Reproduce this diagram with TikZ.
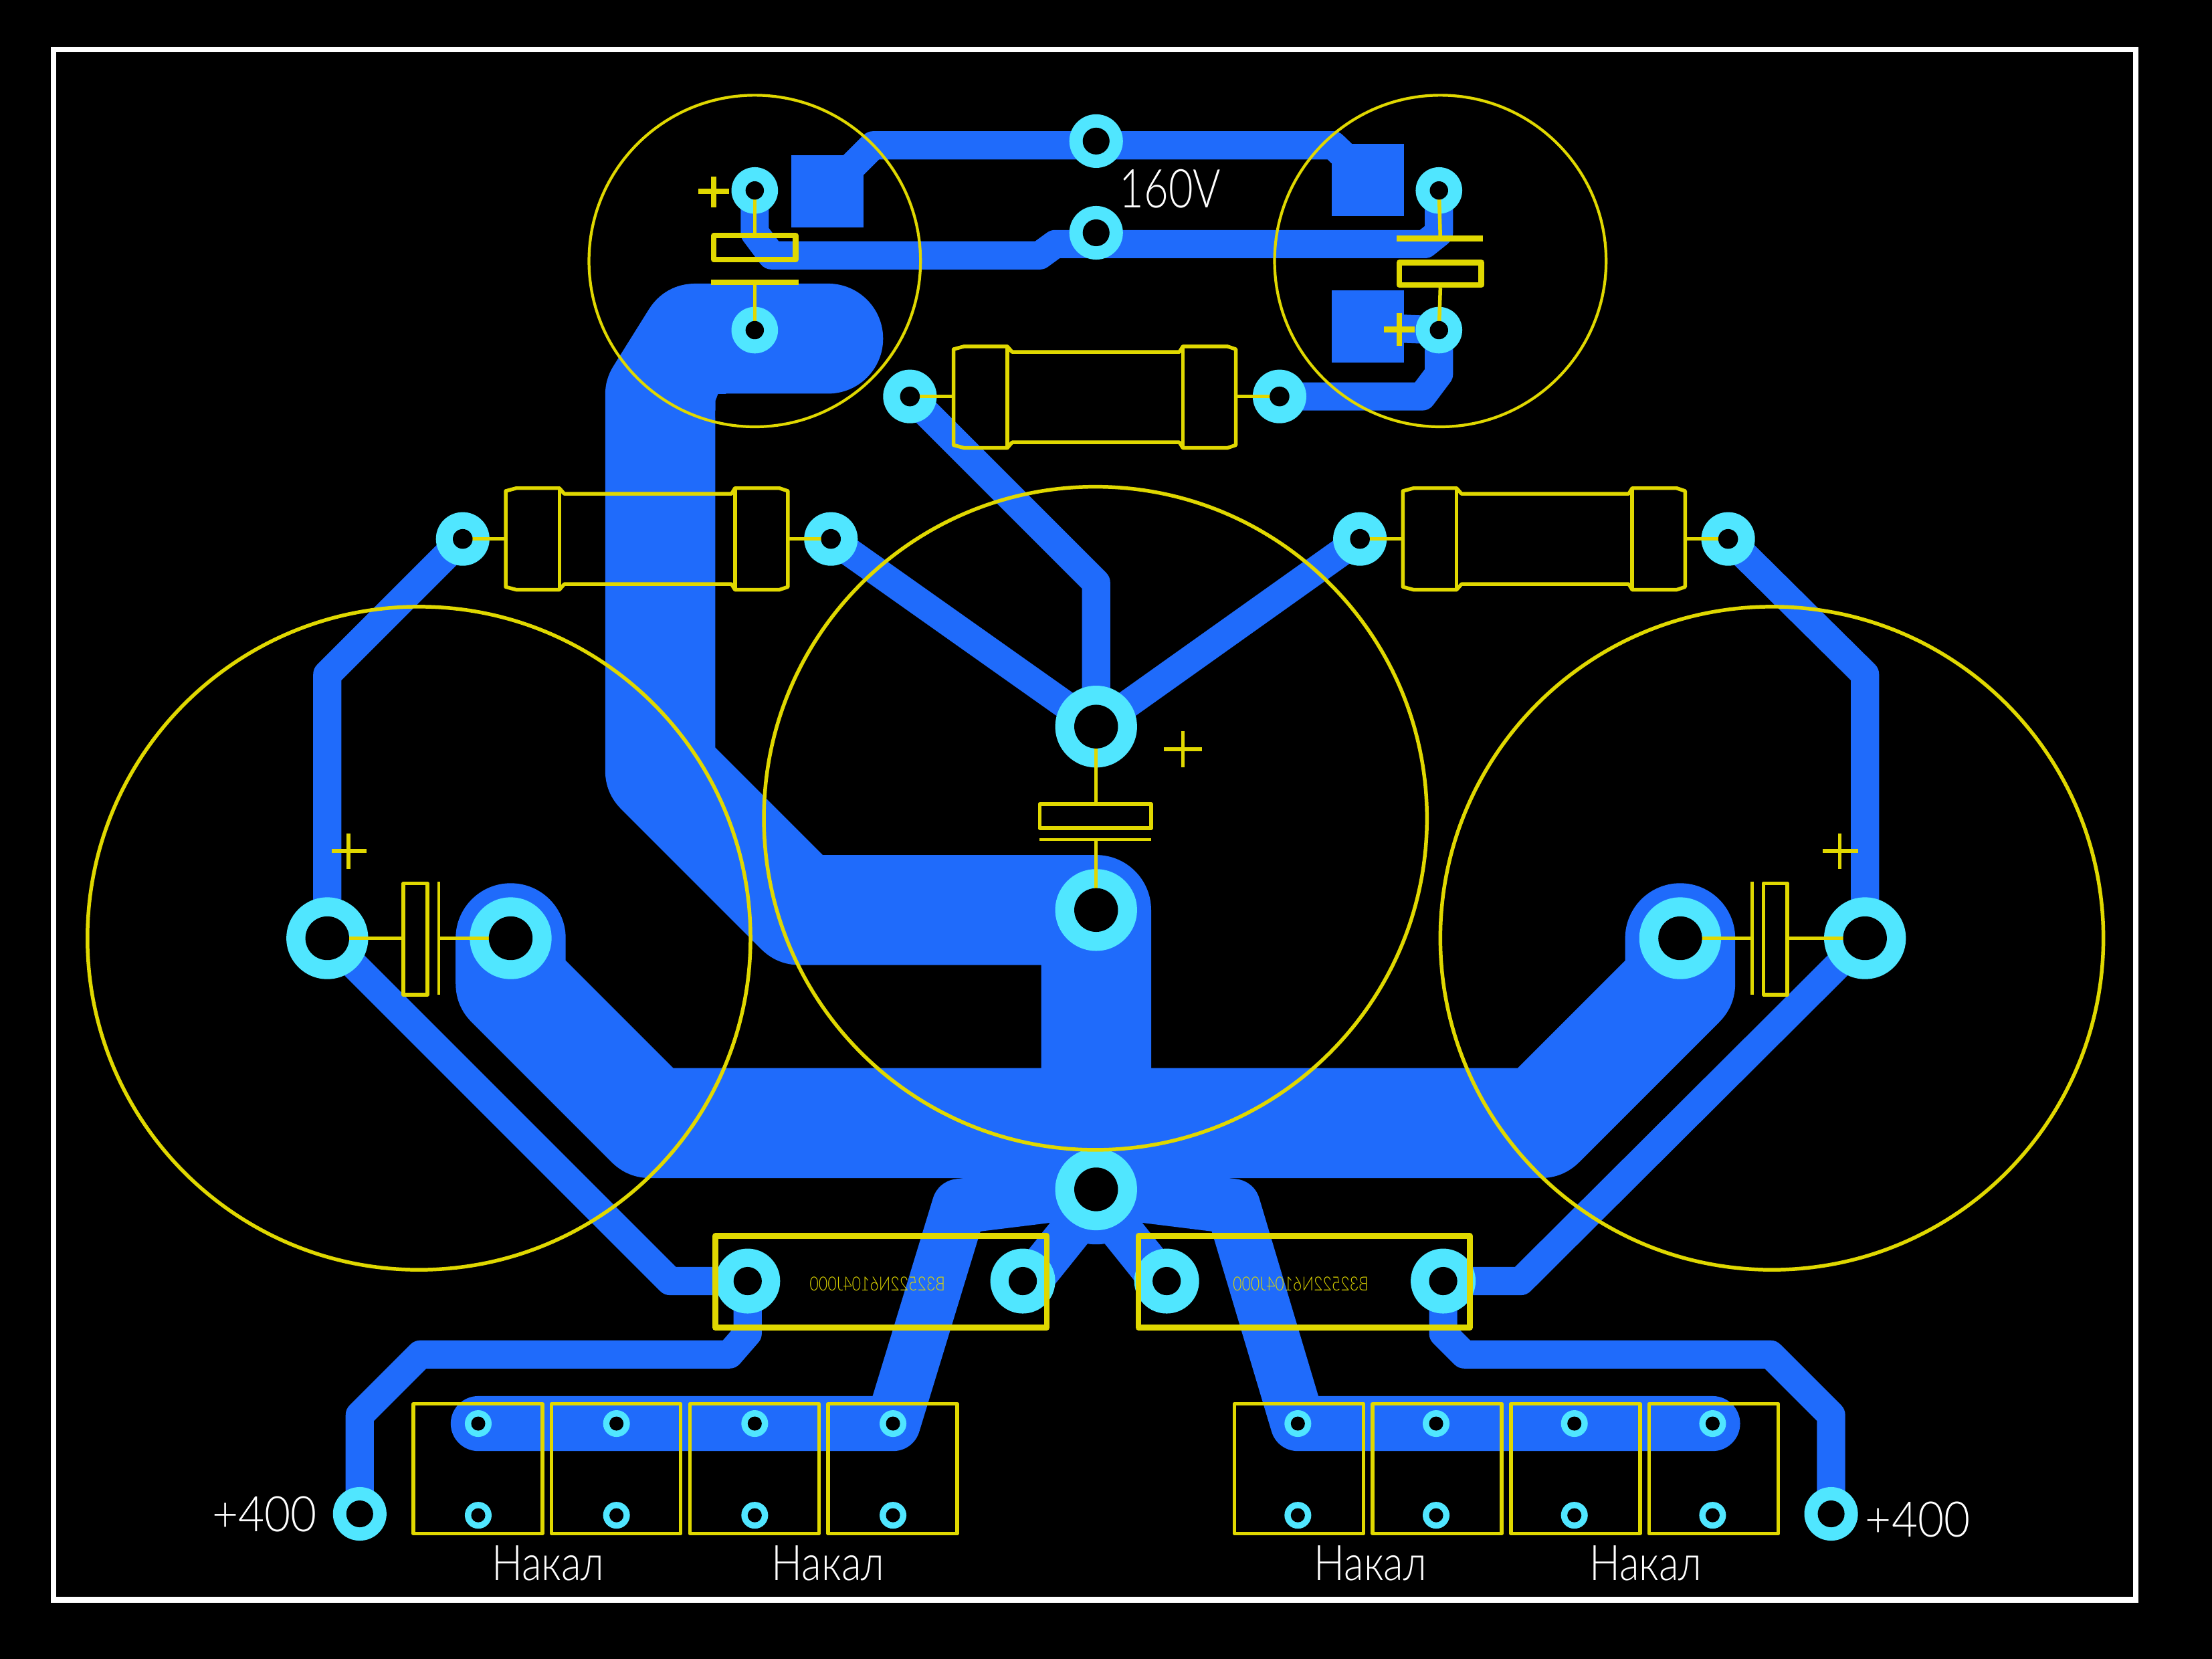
\documentclass[tikz,border=0pt]{standalone}
\usepackage{fontspec}
\newfontfamily\thinfont{Lato Light}
\definecolor{cu}{HTML}{1F6BFB}
\definecolor{padc}{HTML}{50E6FF}
\definecolor{silk}{HTML}{E0D800}
\tikzset{
  trace/.style={draw=cu,line width=20mm,line join=round,line cap=round},
  widetrace/.style={trace,line width=39mm},
  hugetrace/.style={trace,line width=78mm},
  silkthin/.style={draw=silk,line width=2mm,line join=round},
  silkmid/.style={draw=silk,line width=2.6mm,line join=round},
  silkthick/.style={draw=silk,line width=4mm,line join=round},
  label/.style={text=white,inner sep=0pt,font=\thinfont\fontsize{99}{99}\selectfont,xscale=.83,transform shape},
  volts/.style={text=white,inner sep=0pt,font=\thinfont\fontsize{99}{99}\selectfont,xscale=.92,transform shape},
  partno/.style={text=silk,inner sep=0pt,font=\thinfont\fontsize{39}{39}\selectfont,xscale=-.8,transform shape},
  pics/resistor/.style={code={
    \draw[silkmid] (-100,-34)--(-92.5,-36)--(-62,-36)--(-58.5,-32)--(60,-32)--(62.5,-36)--(94,-36)--(100,-34)
      --(100,34)--(94,36)--(62.5,36)--(60,32)--(-58.5,32)--(-62,36)--(-92.5,36)--(-100,34)--cycle;
    \draw[silkmid] (-62,-36)--(-62,36) (62.5,-36)--(62.5,36);
  }}
}
\begin{document}
\begin{tikzpicture}[x=1mm,y=-1mm]
\useasboundingbox (0,0) rectangle (1568,1175.85);
\fill[black] (0,0) rectangle (1568,1175.85);
% pad positions
\foreach \n/\px/\py in {a/232/665,b/362/665,c/777/515,d/777/645,e/777/843,f/1191/665,g/1322/665,
  h/328/382,i/589/382,j/964/382,k/1225/382,l/645/281,m/907/281,
  n/535/135,o/535/234,q/1020/135,r/1020/234,s/777/100,t/777/165,u/255/1073,v/1298/1073,
  w/530/908,x/725/908,y/827/908,z/1023/908,
  p1/339/1009,p2/437/1009,p3/535/1009,p4/633/1009,p5/339/1074,p6/437/1074,p7/535/1074,p8/633/1074,
  r1/920/1009,r2/1018/1009,r3/1116/1009,r4/1214/1009,r5/920/1074,r6/1018/1074,r7/1116/1074,r8/1214/1074}
  {\coordinate (\n) at (\px,\py);}
% copper
\fill[cu] (561,110) rectangle (612,161);
\fill[cu] (944,102) rectangle (995,153);
\fill[cu] (944,206) rectangle (995,257);
\draw[trace] (587,135)--(619,103)--(945,103)--(970,127);
\draw[trace] (n)--(535,165)--(547,181)--(737,181)--(748,173)--(1010,173)--(1020,165)--(q);
\draw[trace] (970,232)--(r);
\draw[trace] (m)--(1008,281)--(1020,265)--(r);
\draw[hugetrace] (587,240)--(493,240)--(468,280)--(468,546)--(567,645)--(d)--(777,795);
\fill[black] (509,279.3)--(518,279.3)--(507.2,296)--(507.2,284)--cycle;
\draw[hugetrace] (b)--(362,697)--(461,796)--(1092,796)--(1191,697)--(f);
\fill[cu] (e) circle (39);
\draw[trace] (h)--(232,478)--(a)--(475,908)--(w)--(530,945)--(517,960)--(298,960)--(255,1003)--(u);
\draw[trace] (k)--(1322,478)--(g)--(1078,908)--(z)--(1023,945)--(1038,960)--(1255,960)--(1298,1003)--(v);
\draw[trace] (l)--(777,413)--(c);
\draw[trace] (i)--(c)--(j);
\draw[widetrace] (e)--(680,855)--(633,1009)--(p1);
\draw[widetrace] (e)--(874,855)--(920,1009)--(r4);
\draw[trace,line width=30mm,line cap=butt] (732,906)--(777,850);
\draw[trace,line width=30mm,line cap=butt] (822,906)--(777,850);
% pads
\foreach \n in {a,b,c,d,e,f,g}{\fill[padc] (\n) circle (29);}
\foreach \n in {h,i,j,k,l,m}{\fill[padc] (\n) circle (19);}
\foreach \n in {n,o,q,r}{\fill[padc] (\n) circle (16.5);}
\foreach \n in {s,t,u,v}{\fill[padc] (\n) circle (19);}
\foreach \n in {w,x,y,z}{\fill[padc] (\n) circle (23);}
\foreach \n in {p1,p2,p3,p4,p5,p6,p7,p8,r1,r2,r3,r4,r5,r6,r7,r8}{\fill[padc] (\n) circle (9.5);}
% silkscreen
\draw[silkmid] (297,665) circle (235);
\draw[silkmid] (776.5,580) circle (235);
\draw[silkmid] (1256,665) circle (235);
\draw[silkthin] (535,185) circle (117.5);
\draw[silkthin] (1021,185) circle (117.5);
% resistors
\pic at (776,281.5) {resistor};
\pic at (458.5,382) {resistor};
\pic at (1094.5,382) {resistor};
\draw[silkmid] (l)--(676,281) (875,281)--(m);
\draw[silkmid] (h)--(359,382) (558,382)--(i);
\draw[silkmid] (j)--(995,382) (1194,382)--(k);
% electrolytics, top
\draw[silkthick] (506,167) rectangle (564,184);
\draw[silkthick] (504,200)--(566,200);
\draw[silkmid] (n)--(535,166) (535,200)--(o);
\draw[silkthick] (495,135.5)--(517,135.5) (506,125)--(506,147);
\draw[silkthick] (990,169)--(1051,169);
\draw[silkthick] (992,186)--(1050,186)--(1050,202)--(992,202)--cycle;
\draw[silkmid] (q)--(1021,169) (1021,204)--(r);
\draw[silkthick] (981,233.5)--(1003,233.5) (992,222)--(992,245);
% electrolytic, centre
\draw[silkmid] (737,570) rectangle (816,587);
\draw[silkthin] (737,595)--(816,595);
\draw[silkmid] (c)--(777,570) (777,595)--(d);
\draw[silkmid] (825,531)--(852,531) (838.5,518)--(838.5,544);
% electrolytic, left
\draw[silkmid] (286,626) rectangle (303,705);
\draw[silkthin] (311,625)--(311,705);
\draw[silkmid] (a)--(286,665) (311,665)--(b);
\draw[silkmid] (235,603)--(260,603) (247,591)--(247,616);
% electrolytic, right
\draw[silkmid] (1250,626) rectangle (1267,705);
\draw[silkthin] (1242,625)--(1242,705);
\draw[silkmid] (f)--(1242,665) (1267,665)--(g);
\draw[silkmid] (1292,603)--(1317,603) (1304,591)--(1304,616);
% modules
\draw[silkthick] (507,876) rectangle (742,941);
\draw[silkthick] (807,876) rectangle (1042,941);
\foreach \xa in {293,391,489,587,875,973,1071,1169}{\draw[silkmid] (\xa,995) rectangle ++(91.5,92);}
% holes
\foreach \n in {a,b,c,d,e,f,g}{\fill[black] (\n) circle (15.5);}
\foreach \n in {h,i,j,k,l,m}{\fill[black] (\n) circle (7);}
\foreach \n in {n,o,q,r}{\fill[black] (\n) circle (6.5);}
\foreach \n in {s,t,u,v}{\fill[black] (\n) circle (9.5);}
\foreach \n in {w,x,y,z}{\fill[black] (\n) circle (10);}
\foreach \n in {p1,p2,p3,p4,p5,p6,p7,p8,r1,r2,r3,r4,r5,r6,r7,r8}{\fill[black] (\n) circle (5);}
% border
\draw[white,line width=4mm,line join=miter] (38,35)--(1514,35)--(1514,1134)--(38,1134)--cycle;
% text
\node[label,font=\thinfont\fontsize{108}{108}\selectfont,xscale=.79/.83] (v160) at (829.5,134) {160V};
\node[volts] (vl) at (187.5,1073) {+400};
\node[volts] (vr) at (1359.5,1077) {+400};
\node[label] (n1) at (388.5,1108) {Накал};
\node[label] (n2) at (587,1108) {Накал};
\node[label] (n3) at (971.5,1108) {Накал};
\node[label] (n4) at (1166.5,1108) {Накал};
\node[partno] (t1) at (622,910) {B32522N6104J000};
\node[partno] (t2) at (922,910) {B32522N6104J000};
\end{tikzpicture}
\end{document}
